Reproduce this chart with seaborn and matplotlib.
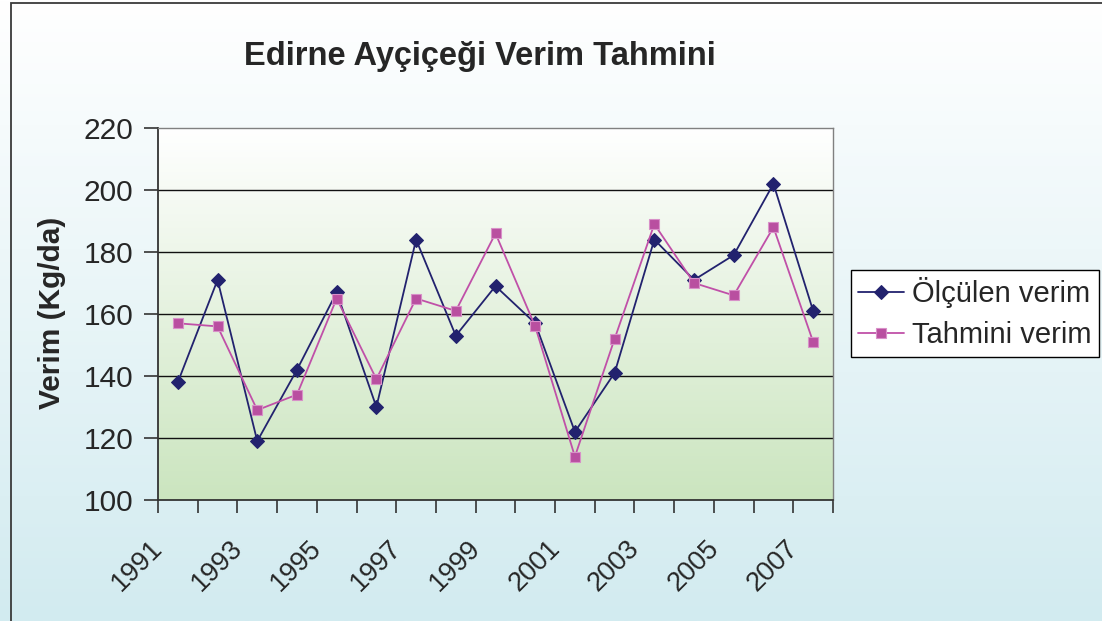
import numpy as np
import pandas as pd
import matplotlib
matplotlib.use("Agg")
import matplotlib.pyplot as plt
import matplotlib.transforms as mtransforms
import seaborn as sns
from matplotlib.patches import Rectangle
from matplotlib.colors import LinearSegmentedColormap

years = list(range(1991, 2008))
olculen = [138, 171, 119, 142, 167, 130, 184, 153, 169, 157, 122, 141, 184, 171, 179, 202, 161]
tahmini = [157, 156, 129, 134, 165, 139, 165, 161, 186, 156, 114, 152, 189, 170, 166, 188, 151]
series_names = ["Ölçülen verim", "Tahmini verim"]
title = "Edirne Ayçiçeği Verim Tahmini"
ylabel = "Verim (Kg/da)"
yticks = [100, 120, 140, 160, 180, 200, 220]

sns.set_theme(style="white")
plt.rcParams['font.family'] = ['Liberation Sans', 'DejaVu Sans']

W, H = 1102, 621
fig = plt.figure(figsize=(W / 100, H / 100), dpi=100)

# figure background gradient
bg = fig.add_axes([0, 0, 1, 1], zorder=-10)
bg_cmap = LinearSegmentedColormap.from_list("bg", ["#ffffff", "#d2ebf0"])
grad = np.linspace(0, 1, 256).reshape(-1, 1)
bg.imshow(grad, aspect="auto", cmap=bg_cmap, extent=[0, 1, 0, 1], origin="upper")
bg.set_axis_off()
# chart border (cropped on right/bottom)
fig.patches.append(Rectangle((11 / W, -0.2), 1.5, 1.2 - 3 / H, transform=fig.transFigure,
                             fill=False, edgecolor="#3a3a3a", linewidth=1.3, zorder=-5))

left, right, top, bottom = 158 / W, 833 / W, 1 - 128 / H, 1 - 500 / H
ax = fig.add_axes([left, bottom, right - left, top - bottom])
ax.set_facecolor("none")

x = np.arange(len(years))
df = pd.DataFrame({"x": np.concatenate([x, x]),
                   "val": olculen + tahmini,
                   "seri": [series_names[0]] * len(x) + [series_names[1]] * len(x)})

# plot area gradient
pa_cmap = LinearSegmentedColormap.from_list("pa", ["#ffffff", "#cbe5bf"])
ax.imshow(grad, aspect="auto", cmap=pa_cmap, extent=[-0.5, len(x) - 0.5, 100, 220],
          origin="upper", zorder=0)

for yv in yticks[1:-1]:
    ax.axhline(yv, color="#111111", linewidth=1.0, zorder=1)

sns.lineplot(data=df[df.seri == series_names[0]], x="x", y="val", ax=ax, color="#22226e",
             marker="D", markersize=7, markeredgecolor="#22226e", linewidth=1.3,
             label=series_names[0], zorder=3)
sns.lineplot(data=df[df.seri == series_names[1]], x="x", y="val", ax=ax, color="#c050a8",
             marker="s", markersize=7, markerfacecolor="#b94fa0", markeredgecolor="#d890c8",
             markeredgewidth=0.8, linewidth=1.3, label=series_names[1], zorder=4)

ax.set_xlim(-0.5, len(x) - 0.5)
ax.set_ylim(100, 220)
ax.set_yticks(yticks)
ax.set_yticklabels([str(v) for v in yticks], fontsize=21.5)
ax.set_xticks([])
ax.set_xticks(np.arange(-0.5, len(x), 1), minor=True)
ax.tick_params(axis="x", which="minor", length=9, width=1.2, color="#333333", direction="out",
               bottom=True, labelbottom=False)
ax.tick_params(axis="y", length=10, width=1.2, color="#333333", direction="out", left=True, pad=8)

# rotated category labels (every other year)
lab_tr = ax.get_xaxis_transform() + mtransforms.ScaledTranslation(-28 / 100, -35 / 100, fig.dpi_scale_trans)
for xi, yr in zip(x[::2], years[::2]):
    ax.text(xi, 0, str(yr), transform=lab_tr, fontsize=19.5, rotation=45, rotation_mode="anchor",
            ha="right", va="top", clip_on=False)

ax.set_xlabel("")
ax.set_ylabel("")
for s in ["left", "bottom"]:
    ax.spines[s].set_color("#333333")
    ax.spines[s].set_linewidth(1.3)
for s in ["top", "right"]:
    ax.spines[s].set_color("#808080")
    ax.spines[s].set_linewidth(1.0)

fig.text(480 / W, 1 - 57 / H, title, fontsize=23.5, fontweight="bold", ha="center", va="center")
fig.text(52 / W, 1 - 313 / H, ylabel, fontsize=21.5, fontweight="bold", ha="center", va="center",
         rotation=90)

leg = ax.legend(loc="upper left", bbox_to_anchor=(851 / W, 1 - 270 / H), bbox_transform=fig.transFigure,
                fontsize=21, frameon=True, fancybox=False, framealpha=1, edgecolor="#000000",
                borderpad=0.25, labelspacing=0.45, handlelength=1.55, handletextpad=0.3, borderaxespad=0)
leg.get_frame().set_linewidth(1.0)

fig.savefig("out.png", dpi=100)
